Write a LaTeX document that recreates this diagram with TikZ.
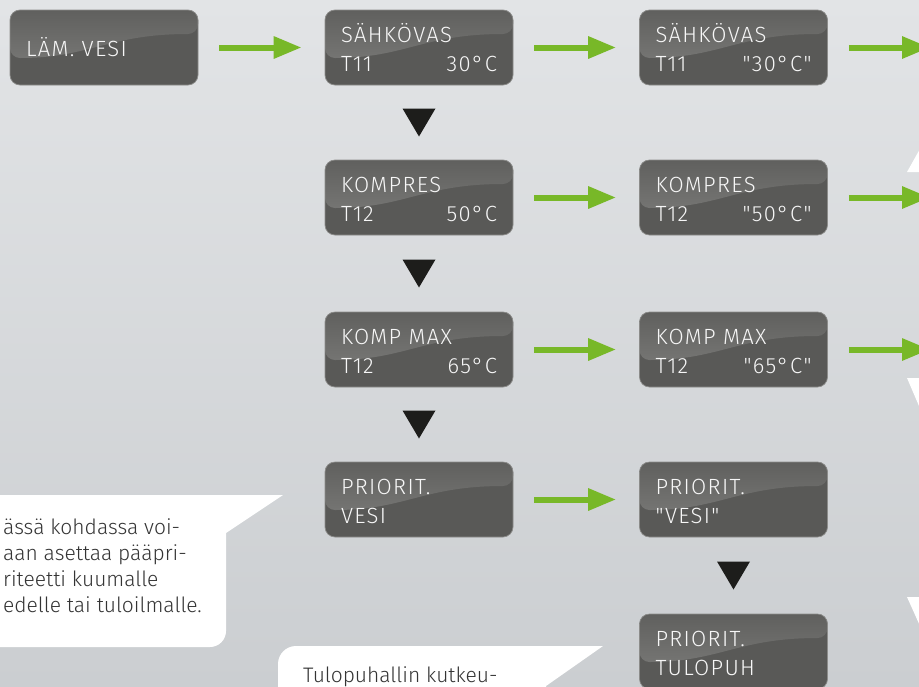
\documentclass[tikz,border=0pt]{standalone}
\usepackage{fontspec}
\newfontfamily\lcdfont{Fira Sans}[UprightFont=* Light, LetterSpace=6]
\newfontfamily\notefont{Fira Sans}[UprightFont=* Light]
\usepackage{tikz}
\usetikzlibrary{calc, positioning, arrows.meta}
\usepackage{xcolor}
\definecolor{bgtop}{RGB}{226, 228, 230}
\definecolor{bgbot}{RGB}{203, 206, 209}
\definecolor{lcdbody}{RGB}{89, 89, 87}
\definecolor{lcdglossA}{RGB}{96, 96, 94}
\definecolor{lcdglossB}{RGB}{128, 128, 126}
\definecolor{lcdedge}{RGB}{140, 140, 138}
\definecolor{flowgreen}{RGB}{120, 184, 40}
\definecolor{tridark}{RGB}{29, 29, 27}
\definecolor{notetext}{RGB}{52, 52, 52}

\begin{document}
\begin{tikzpicture}[x=1pt, y=-1pt,
    lcd/.style={rounded corners=10pt, fill=lcdbody, draw=lcdedge, line width=0.7pt,
      minimum width=188pt, minimum height=75pt, inner sep=0pt, text width=156pt,
      align=left, text=white!94!gray, font=\lcdfont\fontsize{22}{29.5}\selectfont,
      path picture={
        \shade[top color=lcdglossA, bottom color=lcdglossB]
          (path picture bounding box.north west) -- (path picture bounding box.north east)
          -- ++(0,24) .. controls +(-90,0) and +(80,0) ..
          ($(path picture bounding box.north west)+(0,48)$) -- cycle;
      }},
    flow/.style={draw=flowgreen, line width=6pt, -{Triangle[length=28pt, width=21pt]},
      shorten <=21pt, shorten >=23pt},
    downtri/.style={fill=tridark},
    note/.style={font=\notefont\fontsize{21}{26}\selectfont, text=notetext, align=left, inner sep=0pt}]
  \useasboundingbox (0,0) rectangle (919,686);
  \clip (0,0) rectangle (919,686);
  \shade[top color=bgtop, bottom color=bgbot] (0,0) rectangle (919,686);

  % Main menu
  \node[lcd] (lamvesi) at (104,47.5) {\vphantom{Ä}LÄM. VESI};

  % Parameters
  \foreach \n/\y/\la/\lb/\lc in {1/47.5/SÄHKÖVAS/T11/30°C, 2/197.5/KOMPRES/T12/50°C,
      3/349.5/KOMP MAX/T12/65°C, 4/499.5/PRIORIT./VESI/}
    \node[lcd] (par\n) at (419,\y) {\vphantom{Ä}\la\\\lb\hfill\lc};

  % Editing
  \foreach \n/\y/\la/\lb/\lc in {1/47.5/SÄHKÖVAS/T11/"30°C", 2/197.5/KOMPRES/T12/"50°C",
      3/349.5/KOMP MAX/T12/"65°C", 4/499.5/PRIORIT./"VESI"/, 5/651.5/PRIORIT./TULOPUH/}
    \node[lcd] (edit\n) at (733.5,\y) {\vphantom{Ä}\la\\\lb\hfill\lc};

  \coordinate (out1) at (953,47.5);
  \coordinate (out2) at (953,197.5);
  \coordinate (out3) at (953,349.5);

  % Arrows
  \draw[flow] (lamvesi) -- (par1);
  \foreach \n in {1,...,4}
    \draw[flow] (par\n) -- (edit\n);
  \foreach \n in {1,2,3}
    \draw[flow] (edit\n) -- (out\n);
  \foreach \a/\b in {par1/par2, par2/par3, par3/par4, edit4/edit5}
    \fill[downtri] ($(\a.south)!.5!(\b.north)$) +(-16.5,-14) -- +(16.5,-14) -- +(0,14) -- cycle;

  % Notes
  \fill[white] (-20,495) -- (283,495) -- (226,533) [rounded corners=16pt] -- (226,647) -- (-20,647) -- cycle;
  \node[note, anchor=north west] (note1) at (3,518)
    {ässä kohdassa voi-\\aan asettaa pääpri-\\riteetti kuumalle\\edelle tai tuloilmalle.};
  \fill[white] (278,720) [rounded corners=18pt] -- (278,646) [sharp corners] -- (603,646) -- (546,686) -- (546,720) -- cycle;
  \node[note, anchor=base west] (note2) at (303,682) {Tulopuhallin kutkeu-};
  \fill[white] (907,172) -- (925,172) -- (925,140) -- cycle;
  \fill[white] (907,378) -- (925,378) -- (925,420) -- cycle;
  \fill[white] (907,597) -- (925,597) -- (925,637) -- cycle;
\end{tikzpicture}
\end{document}
